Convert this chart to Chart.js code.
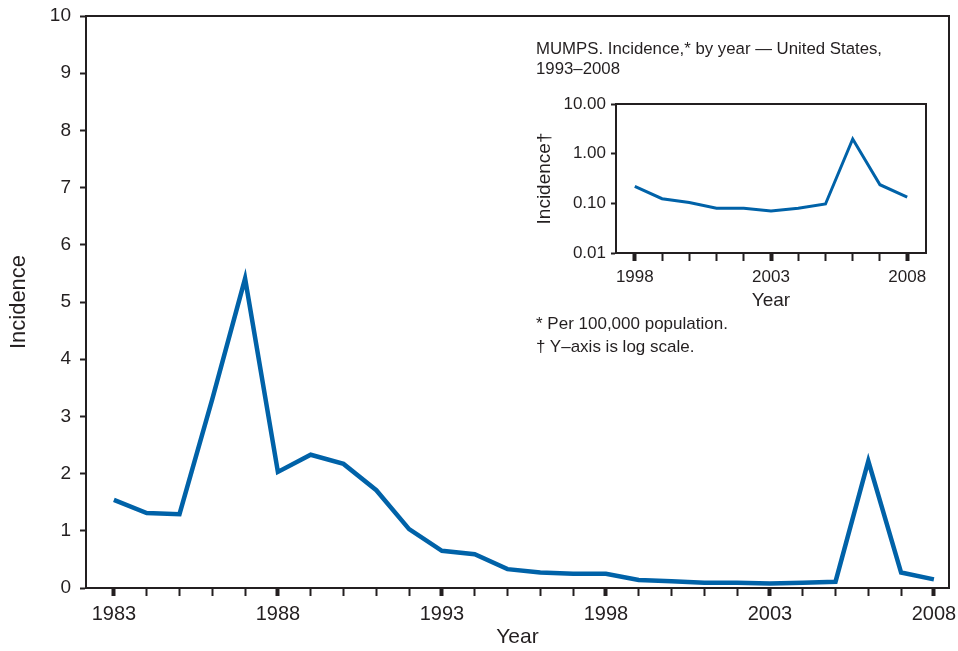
<!DOCTYPE html>
<html>
<head>
<meta charset="utf-8">
<script src="https://cdn.jsdelivr.net/npm/chart.js@4"></script>
<style>
  body { margin: 0; background: #fff; }
  #wrap { position: relative; width: 958px; height: 651px; font-family: "Liberation Sans", Arial, Helvetica, sans-serif; color: #231f20; }
  canvas { position: absolute; }
  .note { position: absolute; left: 536px; font-size: 17px; white-space: nowrap; }
</style>
</head>
<body>
<div id="wrap">
  <canvas id="mainChart" width="958" height="651" style="left:0;top:0"></canvas>
  <canvas id="insetChart" width="420" height="230" style="left:520px;top:90px"></canvas>
  <div class="note" style="top:39px;line-height:20px;font-size:16.8px">MUMPS. Incidence,* by year — United States,<br>1993–2008</div>
  <div class="note" style="top:312px;line-height:23px">* Per 100,000 population.<br>† Y–axis is log scale.</div>
</div>
<script>
const mainYears = [1983, 1984, 1985, 1986, 1987, 1988, 1989, 1990, 1991, 1992, 1993, 1994, 1995,
  1996, 1997, 1998, 1999, 2000, 2001, 2002, 2003, 2004, 2005, 2006, 2007, 2008];
const mainIncidence = [1.54, 1.31, 1.29, 3.3, 5.41, 2.03, 2.33, 2.17, 1.71, 1.03, 0.65, 0.59, 0.33,
  0.27, 0.25, 0.25, 0.14, 0.12, 0.09, 0.09, 0.08, 0.09, 0.11, 2.22, 0.27, 0.15];

const insetYears = [1998, 1999, 2000, 2001, 2002, 2003, 2004, 2005, 2006, 2007, 2008];
const insetIncidence = [0.22, 0.124, 0.104, 0.08, 0.08, 0.07, 0.08, 0.097, 1.97, 0.237, 0.134];
const insetLogTicks = [0.01, 0.1, 1, 10];

const ink = "#231f20";
const blue = "#0062a8";
const fontFamily = '"Liberation Sans", Arial, Helvetica, sans-serif';

// draws the closed frame around the plot area
const boxPlugin = {
  id: "box",
  afterDraw(chart) {
    const { left, top, right, bottom } = chart.chartArea;
    const ctx = chart.ctx;
    ctx.save();
    ctx.strokeStyle = ink;
    ctx.lineWidth = 2;
    ctx.strokeRect(left, top, right - left, bottom - top);
    ctx.restore();
  }
};

// keep the label overhang from shrinking the plot area
function noOverhang(scale) {
  scale.paddingLeft = 0;
  scale.paddingRight = 0;
  scale.paddingTop = 0;
  scale.paddingBottom = 0;
}

new Chart(document.getElementById("mainChart"), {
  type: "line",
  data: {
    datasets: [{
      data: mainYears.map((y, i) => ({ x: y, y: mainIncidence[i] })),
      borderColor: blue,
      borderWidth: 4.5,
      pointRadius: 0,
      tension: 0
    }]
  },
  options: {
    responsive: false,
    animation: false,
    devicePixelRatio: 1,
    layout: { padding: { top: 16, right: 9, left: 0, bottom: 0 } },
    plugins: { legend: { display: false }, tooltip: { enabled: false } },
    scales: {
      x: {
        type: "linear",
        min: 1982.15,
        max: 2008.46,
        afterBuildTicks: (scale) => { scale.ticks = mainYears.map((v) => ({ value: v })); },
        afterFit: (scale) => { scale.height = 63; noOverhang(scale); },
        ticks: {
          autoSkip: false,
          maxRotation: 0,
          padding: 6,
          color: ink,
          font: { family: fontFamily, size: 20 },
          callback: (v) => ((v - 1983) % 5 === 0 ? String(v) : "")
        },
        grid: {
          drawOnChartArea: false,
          tickLength: 8,
          tickColor: ink,
          tickWidth: (ctx) => ((ctx.tick.value - 1983) % 5 === 0 ? 4 : 2)
        },
        border: { color: ink, width: 2 },
        title: {
          display: true,
          text: "Year",
          color: ink,
          font: { family: fontFamily, size: 21 },
          padding: { top: 0, bottom: 1 }
        }
      },
      y: {
        min: 0,
        max: 10,
        afterFit: (scale) => { scale.width = 86; noOverhang(scale); },
        ticks: {
          stepSize: 1,
          padding: 9,
          color: ink,
          font: { family: fontFamily, size: 19 }
        },
        grid: { drawOnChartArea: false, tickLength: 6, tickColor: ink, tickWidth: 2 },
        border: { color: ink, width: 2 },
        title: {
          display: true,
          text: "Incidence",
          color: ink,
          font: { family: fontFamily, size: 22 },
          padding: { top: 6, bottom: 0 }
        }
      }
    }
  },
  plugins: [boxPlugin]
});

new Chart(document.getElementById("insetChart"), {
  type: "line",
  data: {
    datasets: [{
      data: insetYears.map((y, i) => ({ x: y, y: insetIncidence[i] })),
      borderColor: blue,
      borderWidth: 3,
      pointRadius: 0,
      tension: 0
    }]
  },
  options: {
    responsive: false,
    animation: false,
    devicePixelRatio: 1,
    layout: { padding: { top: 14, right: 14, left: 0, bottom: 0 } },
    plugins: { legend: { display: false }, tooltip: { enabled: false } },
    scales: {
      x: {
        type: "linear",
        min: 1997.31,
        max: 2008.69,
        afterBuildTicks: (scale) => { scale.ticks = insetYears.map((v) => ({ value: v })); },
        afterFit: (scale) => { scale.height = 67; noOverhang(scale); },
        ticks: {
          autoSkip: false,
          maxRotation: 0,
          padding: 6,
          color: ink,
          font: { family: fontFamily, size: 17 },
          callback: (v) => ((v - 1998) % 5 === 0 ? String(v) : "")
        },
        grid: {
          drawOnChartArea: false,
          tickLength: 8,
          tickColor: ink,
          tickWidth: (ctx) => ((ctx.tick.value - 1998) % 5 === 0 ? 4 : 2)
        },
        border: { color: ink, width: 2 },
        title: {
          display: true,
          text: "Year",
          color: ink,
          font: { family: fontFamily, size: 19 },
          padding: { top: 0, bottom: 8 }
        }
      },
      y: {
        type: "logarithmic",
        min: 0.01,
        max: 10,
        afterBuildTicks: (scale) => { scale.ticks = insetLogTicks.map((v) => ({ value: v })); },
        afterFit: (scale) => { scale.width = 96; noOverhang(scale); },
        ticks: {
          padding: 5,
          color: ink,
          font: { family: fontFamily, size: 17 },
          callback: (v) => Number(v).toFixed(2)
        },
        grid: { drawOnChartArea: false, tickLength: 5, tickColor: ink, tickWidth: 2 },
        border: { color: ink, width: 2 },
        title: {
          display: true,
          text: "Incidence†",
          color: ink,
          font: { family: fontFamily, size: 19 },
          padding: { top: 13, bottom: 0 }
        }
      }
    }
  },
  plugins: [boxPlugin]
});
</script>
</body>
</html>
